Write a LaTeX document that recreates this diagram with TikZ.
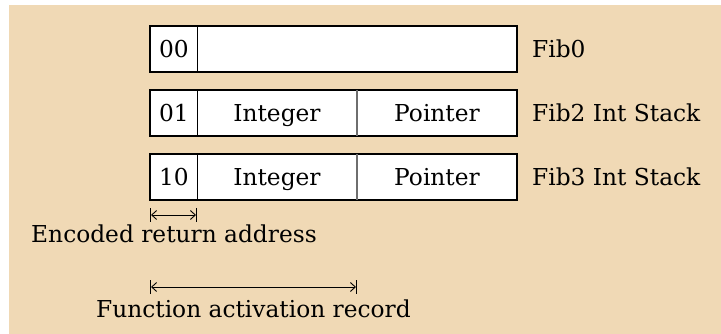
\documentclass[tikz,border=0pt]{standalone}
\usepackage{fontspec}
\setmainfont{DejaVu Serif}
\usetikzlibrary{arrows.meta}
\definecolor{bgtan}{RGB}{240,217,181}
\definecolor{divgray}{RGB}{110,110,110}
\begin{document}
\begin{tikzpicture}[x=1pt,y=-1pt,
  txt/.style={font=\fontsize{23.3}{26}\selectfont,anchor=base,inner sep=0pt},
  recbox/.style={draw=black,line width=2.8pt,fill=white,minimum width=367pt,minimum height=46pt,inner sep=0pt},
  thindiv/.style={line width=1pt,black},
  graydiv/.style={line width=1.2pt,divgray},
  dim/.style={line width=0.9pt,{Bar[width=14pt,line width=1pt].Straight Barb[length=5pt,width=9pt]}-{Straight Barb[length=5pt,width=9pt].Bar[width=14pt,line width=1pt]}}
]
\useasboundingbox (0,0) rectangle (721,334);
\fill[bgtan] (9,5) rectangle (721,334);

% boxes
\node[recbox] (b0) at (333.5,49) {};
\node[recbox] (b2) at (333.5,113) {};
\node[recbox] (b3) at (333.5,177) {};

% dividers
\draw[thindiv] (197,26) -- (197,72);
\draw[thindiv] (197,90) -- (197,136);
\draw[graydiv] (357,90) -- (357,136);
\draw[thindiv] (197,154) -- (197,200);
\draw[graydiv] (357,154) -- (357,200);

% cell texts
\node[txt] (c00) at (174,58) {00};
\node[txt] (c01) at (174,122) {01};
\node[txt] (i2) at (277,122) {Integer};
\node[txt] (p2) at (437,122) {Pointer};
\node[txt] (c10) at (174,186) {10};
\node[txt] (i3) at (277,186) {Integer};
\node[txt] (p3) at (437,186) {Pointer};

% labels
\node[txt,anchor=base west] (l0) at (532,58) {Fib0};
\node[txt,anchor=base west] (l2) at (532,122) {Fib2 Int Stack};
\node[txt,anchor=base west] (l3) at (532,186) {Fib3 Int Stack};

% dimension arrows
\coordinate (ea) at (150,215);
\coordinate (eb) at (197,215);
\draw[dim] (ea) -- (eb);
\node[txt] (enc) at (174,243) {Encoded return address};

\coordinate (fa) at (150,287);
\coordinate (fb) at (357,287);
\draw[dim] (fa) -- (fb);
\node[txt] (far) at (253.5,317) {Function activation record};
\end{tikzpicture}
\end{document}
